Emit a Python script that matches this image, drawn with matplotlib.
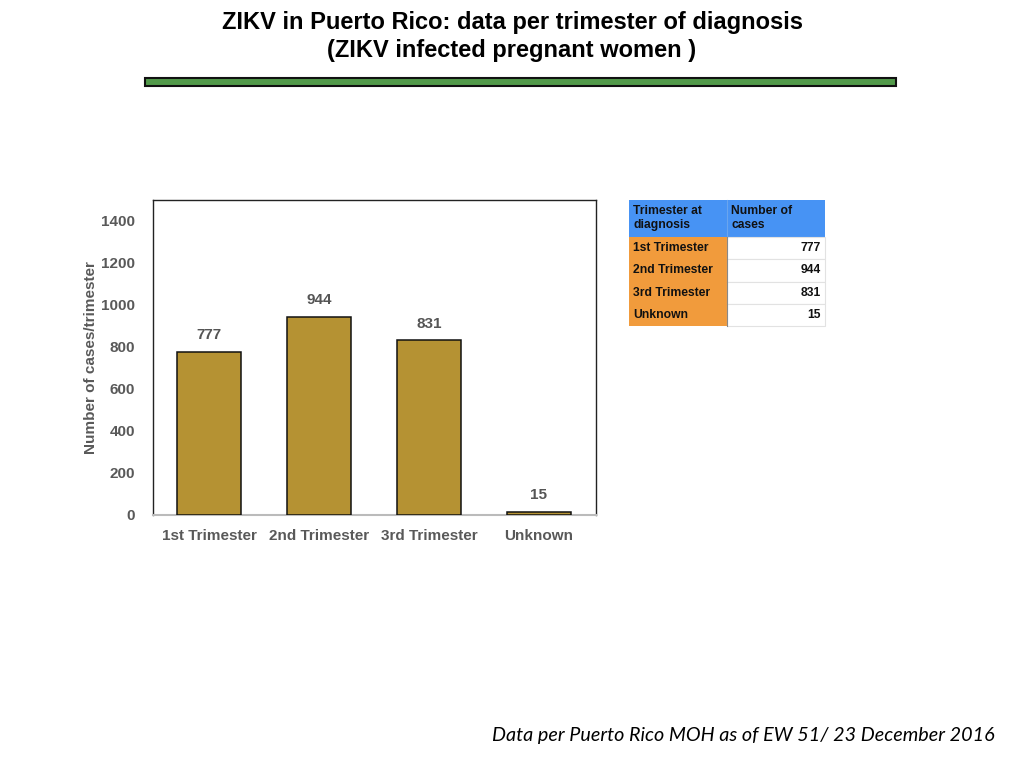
import matplotlib
matplotlib.use("Agg")
import matplotlib.pyplot as plt
from matplotlib.patches import Rectangle

categories = ["1st Trimester", "2nd Trimester", "3rd Trimester", "Unknown"]
cases = [777, 944, 831, 15]
table_header = ["Trimester at\ndiagnosis", "Number of\ncases"]
yticks = [0, 200, 400, 600, 800, 1000, 1200, 1400]

W, H = 1024, 768
fig = plt.figure(figsize=(W / 100, H / 100), dpi=100)
plt.rcParams['font.family'] = ['Liberation Sans', 'DejaVu Sans']

def px(x0, y0, x1, y1):
    return [x0 / W, 1 - y1 / H, (x1 - x0) / W, (y1 - y0) / H]

# Title
fig.text(512 / W, 1 - 22 / H, "ZIKV in Puerto Rico: data per trimester of diagnosis",
         ha="center", va="center", fontsize=17, fontweight="bold", color="black")
fig.text(512 / W, 1 - 51 / H, "(ZIKV infected pregnant women )",
         ha="center", va="center", fontsize=17, fontweight="bold", color="black")

# Green banner
bax = fig.add_axes(px(140, 74, 900, 90))
bax.set_xlim(140, 900)
bax.set_ylim(90, 74)
bax.axis("off")
bax.add_patch(Rectangle((145, 78), 751, 8, facecolor="#529a4a", edgecolor="#111111", lw=1.5))

# Bar chart
ax = fig.add_axes(px(153, 200, 596, 515))
x = list(range(len(categories)))
ax.bar(x, cases, width=0.58, color="#b59233", edgecolor="#111111", linewidth=1.1, zorder=3)
for xi, v in zip(x, cases):
    ax.text(xi, v + 45, str(v), ha="center", va="bottom", fontsize=11,
            fontweight="bold", color="#555555")
ax.set_xlim(-0.51, 3.52)
ax.set_ylim(0, 1500)
ax.set_yticks(yticks)
ax.set_yticklabels([str(t) for t in yticks])
ax.set_xticks(x)
ax.set_xticklabels(categories)
ax.tick_params(axis="both", length=0, labelsize=11, colors="#595959")
ax.tick_params(axis="x", pad=10)
ax.tick_params(axis="y", pad=13)
for lab in ax.get_xticklabels() + ax.get_yticklabels():
    lab.set_fontweight("bold")
ax.set_ylabel("Number of cases/trimester", fontsize=11, fontweight="bold",
              color="#595959", labelpad=2)
for s in ["top", "left", "right"]:
    ax.spines[s].set_color("#222222")
    ax.spines[s].set_linewidth(1.0)
ax.spines["bottom"].set_color("#bbbbbb")
ax.spines["bottom"].set_linewidth(1.5)

# Table
tax = fig.add_axes(px(626, 197, 830, 330))
tax.set_xlim(626, 830)
tax.set_ylim(330, 197)
tax.axis("off")
x0, xm, x1 = 629, 727, 825
hy0, hy1 = 200, 237
rh = 22.3
blue = "#4793f4"
orange = "#f19b3c"
tax.add_patch(Rectangle((x0, hy0), x1 - x0, hy1 - hy0, facecolor=blue, edgecolor="none"))
tax.plot([xm, xm], [hy0, hy1], color="#6aa5ee", lw=0.8)
tax.text(x0 + 4, hy0 + 18, table_header[0], ha="left", va="center", fontsize=8.7,
         fontweight="bold", color="#111111", linespacing=1.15)
tax.text(xm + 4, hy0 + 18, table_header[1], ha="left", va="center", fontsize=8.7,
         fontweight="bold", color="#111111", linespacing=1.15)
for i, (cat, v) in enumerate(zip(categories, cases)):
    ya = hy1 + i * rh
    tax.add_patch(Rectangle((x0, ya), xm - x0, rh, facecolor=orange, edgecolor="none"))
    tax.add_patch(Rectangle((xm, ya), x1 - xm, rh, facecolor="white",
                            edgecolor="#e2e2e2", lw=0.8))
    tax.text(x0 + 4, ya + rh / 2, cat, ha="left", va="center", fontsize=8.7,
             fontweight="bold", color="#111111")
    tax.text(x1 - 4, ya + rh / 2, str(v), ha="right", va="center", fontsize=8.7,
             fontweight="bold", color="#111111")
tax.plot([xm, xm], [hy1, hy1 + 4 * rh], color="#888888", lw=0.8)

# Footer
fig.text(995 / W, 1 - 736 / H, "Data per Puerto Rico MOH as of EW 51/ 23 December 2016",
         ha="right", va="center", fontsize=14.2, style="italic", color="black",
         family=["Lato", "DejaVu Sans"])

fig.savefig("out.png", dpi=100, facecolor="white")
